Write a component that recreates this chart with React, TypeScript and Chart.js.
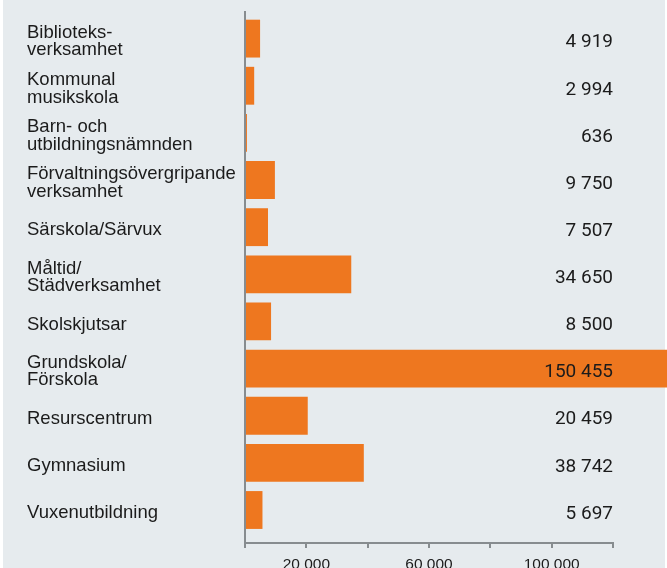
import React, { useEffect, useRef } from "react";
import { Chart, registerables } from "chart.js";

Chart.register(...registerables);

const categories: (string | string[])[] = [
  ["Biblioteks-", "verksamhet"],
  ["Kommunal", "musikskola"],
  ["Barn- och", "utbildningsnämnden"],
  ["Förvaltningsövergripande", "verksamhet"],
  "Särskola/Särvux",
  ["Måltid/", "Städverksamhet"],
  "Skolskjutsar",
  ["Grundskola/", "Förskola"],
  "Resurscentrum",
  "Gymnasium",
  "Vuxenutbildning",
];

const values: number[] = [4919, 2994, 636, 9750, 7507, 34650, 8500, 150455, 20459, 38742, 5697];

const xTickValues: number[] = [0, 20000, 40000, 60000, 80000, 100000, 120000];
const xLabeledTicks: number[] = [20000, 60000, 100000];

const fmt = (v: number) => String(v).replace(/\B(?=(\d{3})+(?!\d))/g, " ");

const valueLabelPlugin = {
  id: "valueLabels",
  afterDatasetsDraw(chart: any) {
    const ctx = chart.ctx;
    const meta = chart.getDatasetMeta(0);
    const xScale = chart.scales.x;
    const right = xScale.getPixelForValue(xScale.max);
    ctx.save();
    ctx.font = "19px Roboto";
    ctx.fillStyle = "#1b1b1b";
    ctx.textAlign = "right";
    ctx.textBaseline = "middle";
    meta.data.forEach((bar: any, i: number) => {
      ctx.fillText(fmt(values[i]), right, bar.y + 4);
    });
    ctx.restore();
  },
};

export default function App() {
  const ref = useRef<HTMLCanvasElement | null>(null);

  useEffect(() => {
    if (!ref.current) return;
    const chart = new Chart(ref.current, {
      type: "bar",
      data: {
        datasets: [
          {
            data: values.map((v, i) => ({ x: v, y: i })),
            backgroundColor: "#ee771f",
            borderWidth: 0,
            barPercentage: 0.803,
            categoryPercentage: 1,
            clip: false as any,
          },
        ],
      },
      options: {
        indexAxis: "y",
        responsive: false,
        animation: false,
        devicePixelRatio: 1,
        layout: { padding: { left: 27, right: 54, top: 10, bottom: 0 } },
        plugins: {
          legend: { display: false },
          tooltip: { enabled: false },
        },
        scales: {
          y: {
            type: "linear",
            reverse: true,
            offset: false,
            min: -0.571,
            max: 10.7,
            afterBuildTicks: (scale: any) => {
              scale.ticks = categories.map((_, i) => ({ value: i }));
            },
            afterFit: (scale: any) => {
              scale.width = 218;
            },
            grid: { display: false, drawTicks: false, offset: false },
            border: { display: true, color: "#878c8f", width: 2 },
            ticks: {
              crossAlign: "far",
              labelOffset: 3,
              color: "#1b1b1b",
              font: { family: "'Liberation Sans', Arial, sans-serif", size: 18.5, lineHeight: 0.94 },
              callback: (v: any) => categories[v as number] as any,
            },
          },
          x: {
            type: "linear",
            min: 0,
            max: 120000,
            afterBuildTicks: (scale: any) => {
              scale.ticks = xTickValues.map((v) => ({ value: v }));
            },
            afterFit: (scale: any) => {
              scale.height = 25;
            },
            grid: {
              display: true,
              drawOnChartArea: false,
              drawTicks: true,
              tickLength: 5,
              color: "#878c8f",
              lineWidth: 2,
            },
            border: { display: true, color: "#878c8f", width: 2 },
            ticks: {
              padding: 7,
              maxRotation: 0,
              autoSkip: false,
              color: "#1b1b1b",
              font: { family: "'Liberation Sans', Arial, sans-serif", size: 15.5 },
              callback: (v: any) => (xLabeledTicks.includes(v as number) ? fmt(v as number) : ""),
            },
          },
        },
      },
      plugins: [valueLabelPlugin],
    });
    return () => chart.destroy();
  }, []);

  return (
    <div style={{ position: "absolute", left: 0, top: 0, width: 667, height: 568, background: "#ffffff", overflow: "hidden" }}>
      <div style={{ position: "absolute", left: 3, top: 0, width: 662, height: 568, background: "#e6ebee" }} />
      <canvas ref={ref} width={667} height={568} style={{ position: "absolute", left: 0, top: 0 }} />
    </div>
  );
}
